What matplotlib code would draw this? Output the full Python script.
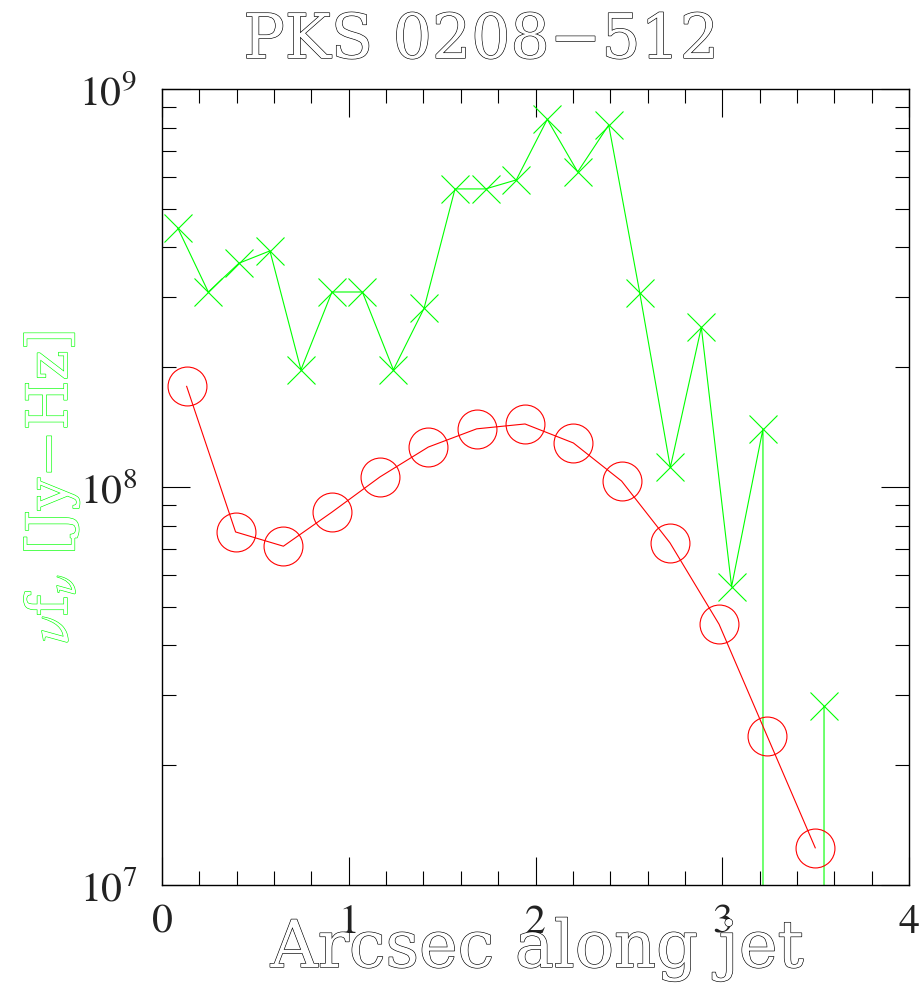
import math
import matplotlib
matplotlib.use("Agg")
import matplotlib.pyplot as plt
import matplotlib.patheffects as pe
from matplotlib.ticker import MultipleLocator, LogLocator, FuncFormatter, NullFormatter

plt.rcParams['font.family'] = ['DejaVu Serif']
plt.rcParams['mathtext.fontset'] = 'stix'

# knot positions along the jet (arcsec) and nu*f_nu (Jy Hz)
xray_pos = [0.084, 0.248, 0.412, 0.578, 0.744, 0.910, 1.073, 1.239, 1.403, 1.569, 1.733,
            1.897, 2.063, 2.226, 2.392, 2.558, 2.722, 2.888, 3.050, 3.218, 3.382, 3.545]
xray_flux = [4.48e8, 3.09e8, 3.65e8, 3.92e8, 1.97e8, 3.09e8, 3.09e8, 1.97e8, 2.81e8, 5.61e8, 5.61e8,
             5.91e8, 8.39e8, 6.19e8, 8.12e8, 3.08e8, 1.12e8, 2.52e8, 5.62e7, 1.40e8, 0.0, 2.81e7]

radio_pos = [0.132, 0.394, 0.650, 0.909, 1.167, 1.426, 1.685, 1.944, 2.203, 2.461,
             2.720, 2.983, 3.240, 3.498]
radio_flux = [1.79e8, 7.71e7, 7.10e7, 8.64e7, 1.06e8, 1.26e8, 1.40e8, 1.44e8, 1.29e8, 1.035e8,
              7.24e7, 4.52e7, 2.37e7, 1.24e7]

W, H = 924, 983
fig = plt.figure(figsize=(W / 100, H / 100), dpi=100)
ax = fig.add_axes([162 / W, 98 / H, 747 / W, 796 / H])


def hollow(color, lw=0.9):
    # outlined lettering, like the old plotter fonts
    return dict(color='white',
                path_effects=[pe.Stroke(linewidth=lw, foreground=color), pe.Normal()])


ax.plot(xray_pos, xray_flux, color='#00ff00', lw=0.8, marker='x', ms=20, mew=0.8)
ax.plot(radio_pos, radio_flux, color='#ff0000', lw=0.8, marker='o', ms=28,
        mfc='none', mew=0.8)

ax.set_yscale('log')
ax.set_xlim(0, 4)
ax.set_ylim(1e7, 1e9)

ax.xaxis.set_major_locator(MultipleLocator(1))
ax.xaxis.set_minor_locator(MultipleLocator(0.2))
ax.yaxis.set_major_locator(LogLocator(base=10))
ax.yaxis.set_minor_locator(LogLocator(base=10, subs=range(2, 10)))
ax.yaxis.set_minor_formatter(NullFormatter())
ax.xaxis.set_major_formatter(FuncFormatter(lambda v, p: '%d' % round(v)))
ax.yaxis.set_major_formatter(FuncFormatter(lambda v, p: r'$10^{%d}$' % round(math.log10(v))))

ax.tick_params(which='both', direction='in', top=True, right=True, width=0.8, color='black')
ax.tick_params(which='major', length=20)
ax.tick_params(which='minor', length=10)
ax.tick_params(axis='x', which='major', pad=14, labelsize=30, labelcolor='#222222')
ax.tick_params(axis='y', which='major', pad=18, labelsize=30, labelcolor='#222222')
for lab in ax.get_xticklabels():
    lab.set_fontfamily('STIXGeneral')
for sp in ax.spines.values():
    sp.set_linewidth(1.0)

fig.text(481 / W, 1 - 58 / H, 'PKS 0208\u2212512', ha='center', va='baseline',
         fontsize=44.4, **hollow('black'))
fig.text(537 / W, 1 - 967 / H, 'Arcsec along jet', ha='center', va='baseline',
         fontsize=47, **hollow('black'))
fig.text(67 / W, 1 - 487 / H, r'$\nu$f$_\nu$ [Jy' + '\u2212' + 'Hz]', rotation=90,
         rotation_mode='anchor', ha='center', va='baseline', fontsize=41,
         **hollow('#00ff00'))

fig.savefig('out.png', dpi=100)
